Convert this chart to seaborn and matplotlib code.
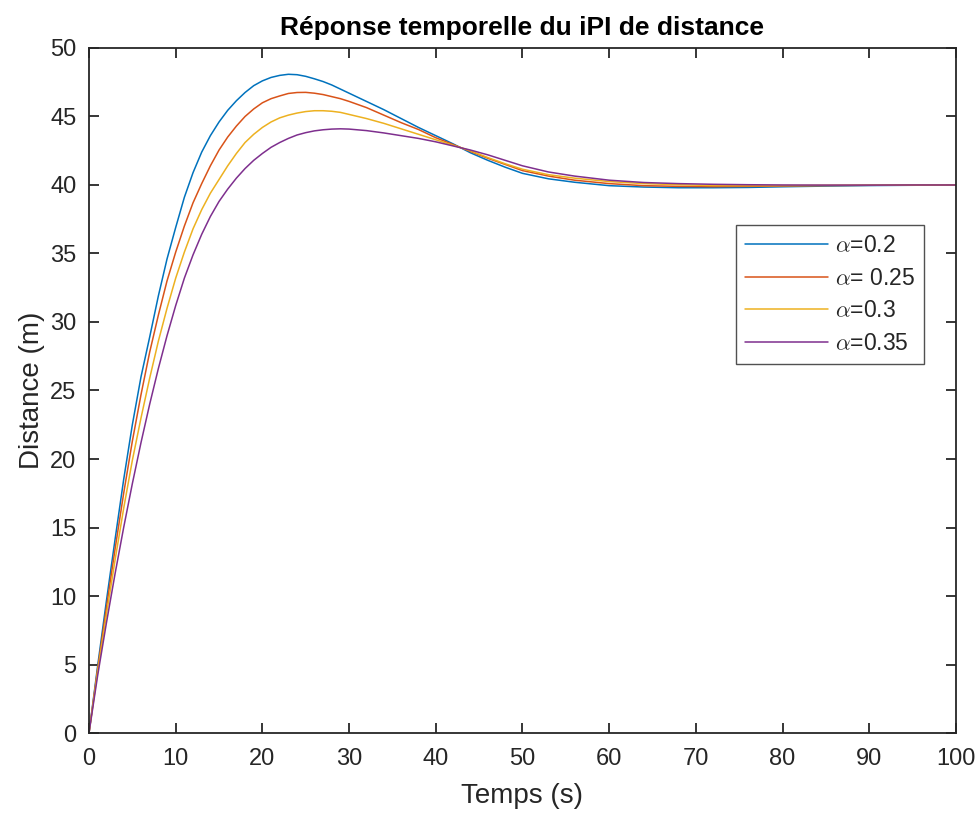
import numpy as np
import pandas as pd
import matplotlib
matplotlib.use('Agg')
import matplotlib.pyplot as plt
import seaborn as sns

# time grid (s) and read-off distances (m) for each alpha
temps = [0, 1, 2, 3, 4, 5, 6, 7, 8, 9, 10, 11, 12, 13, 14, 15, 16, 17, 18, 19,
         20, 21, 22, 23, 24, 25, 26, 27, 28, 29, 30, 32, 34, 36, 38, 40, 42, 44,
         46, 48, 50, 53, 56, 60, 64, 68, 72, 76, 80, 85, 90, 95, 100]

dist_020 = [0, 4.9, 9.6, 14.1, 18.5, 22.5, 26.0, 28.9, 31.9, 34.6, 36.9, 39.1,
            40.9, 42.4, 43.6, 44.6, 45.45, 46.15, 46.75, 47.25, 47.6, 47.85,
            48.0, 48.08, 48.05, 47.93, 47.75, 47.55, 47.3, 47.0, 46.7, 46.1,
            45.5, 44.85, 44.2, 43.6, 43.0, 42.35, 41.8, 41.3, 40.85, 40.45,
            40.2, 39.95, 39.85, 39.8, 39.8, 39.82, 39.87, 39.92, 39.96, 39.98,
            40.0]

dist_025 = [0, 4.7, 9.1, 13.4, 17.5, 21.3, 24.7, 27.8, 30.5, 33.0, 35.1, 37.0,
            38.7, 40.1, 41.4, 42.55, 43.5, 44.3, 45.0, 45.55, 46.0, 46.3, 46.5,
            46.68, 46.75, 46.76, 46.7, 46.6, 46.45, 46.3, 46.1, 45.65, 45.1,
            44.55, 44.05, 43.45, 42.95, 42.45, 41.95, 41.5, 41.05, 40.65, 40.35,
            40.1, 39.95, 39.9, 39.88, 39.9, 39.93, 39.96, 39.98, 39.99, 40.0]

dist_030 = [0, 4.5, 8.6, 12.6, 16.4, 19.9, 23.0, 25.9, 28.6, 31.0, 33.2, 35.1,
            36.8, 38.2, 39.4, 40.4, 41.4, 42.3, 43.1, 43.7, 44.2, 44.6, 44.9,
            45.1, 45.25, 45.36, 45.42, 45.42, 45.38, 45.3, 45.15, 44.85, 44.5,
            44.1, 43.7, 43.3, 42.9, 42.5, 42.0, 41.55, 41.15, 40.75, 40.5,
            40.25, 40.1, 40.02, 39.96, 39.95, 39.96, 39.97, 39.98, 39.99, 40.0]

dist_035 = [0, 4.2, 8.0, 11.6, 15.0, 18.2, 21.2, 24.0, 26.6, 29.0, 31.2, 33.2,
            34.9, 36.4, 37.7, 38.8, 39.7, 40.5, 41.2, 41.8, 42.3, 42.75, 43.1,
            43.4, 43.65, 43.82, 43.95, 44.03, 44.08, 44.1, 44.08, 43.97, 43.8,
            43.6, 43.4, 43.15, 42.85, 42.55, 42.2, 41.8, 41.4, 40.95, 40.65,
            40.35, 40.18, 40.1, 40.05, 40.02, 40.0, 39.99, 39.99, 40.0, 40.0]

labels = [r'$\alpha$=0.2', r'$\alpha$= 0.25', r'$\alpha$=0.3', r'$\alpha$=0.35']
colors = ['#0072BD', '#D95319', '#EDB120', '#7E2F8E']

frames = []
for lab, vals in zip(labels, [dist_020, dist_025, dist_030, dist_035]):
    frames.append(pd.DataFrame({'t': temps, 'd': vals, 'serie': lab}))
df = pd.concat(frames, ignore_index=True)

sns.set_theme(style='white')
plt.rcParams['font.family'] = ['Liberation Sans', 'DejaVu Sans']
plt.rcParams['mathtext.fontset'] = 'cm'

axcol = '#262626'
fig = plt.figure(figsize=(9.79, 8.16), dpi=100)
ax = fig.add_axes([0.0909, 0.1017, 0.8856, 0.8395])

sns.lineplot(data=df, x='t', y='d', hue='serie', hue_order=labels,
             palette=colors, linewidth=1.1, ax=ax, legend=False)

ax.set_xlim(0, 100)
ax.set_ylim(0, 50)
ax.set_xticks(np.arange(0, 101, 10))
ax.set_yticks(np.arange(0, 51, 5))
ax.tick_params(direction='in', length=7, width=1.3, colors=axcol,
               labelsize=17, top=True, right=True, bottom=True, left=True)
ax.tick_params(axis='x', pad=11)
ax.tick_params(axis='y', pad=9)
for sp in ax.spines.values():
    sp.set_color(axcol)
    sp.set_linewidth(1.3)

ax.set_xlabel('Temps (s)', fontsize=20, color=axcol, labelpad=9)
ax.set_ylabel('Distance (m)', fontsize=20, color=axcol, labelpad=4)
ax.set_title('Réponse temporelle du iPI de distance', fontsize=19,
             fontweight='bold', color='black', pad=9)

handles = ax.get_lines()[:4]
leg = ax.legend(handles, labels, loc='upper right',
                bbox_to_anchor=(0.963, 0.7416), borderaxespad=0,
                fontsize=16.5, frameon=True, fancybox=False,
                handlelength=3.6, handletextpad=0.3, labelspacing=0.42,
                borderpad=0.4)
leg.get_frame().set_edgecolor(axcol)
leg.get_frame().set_linewidth(1.0)
for txt in leg.get_texts():
    txt.set_color(axcol)

fig.savefig('out.png', dpi=100, facecolor='white')
